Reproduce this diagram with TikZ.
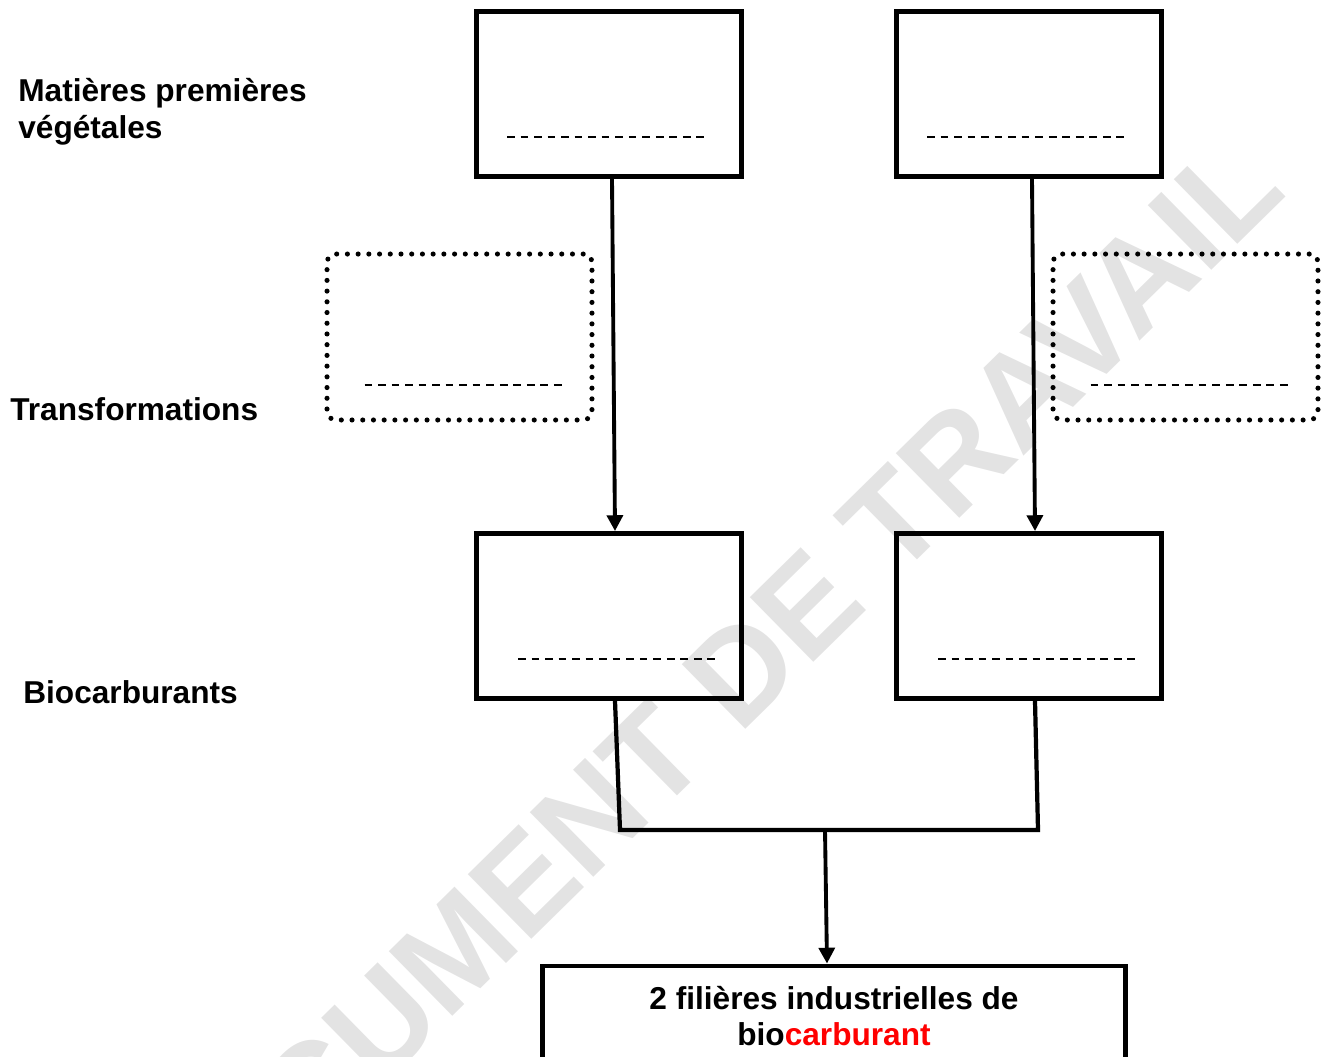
\documentclass[tikz,border=0pt]{standalone}
\usepackage{fontspec}
\setmainfont{Liberation Sans}
\usetikzlibrary{arrows.meta,calc}

\begin{document}
\begin{tikzpicture}[x=0.02cm,y=-0.02cm,
	box/.style={draw,line width=2.8pt,minimum width=5.3cm,minimum height=3.3cm,inner sep=0},
	dotbox/.style={draw,line width=2.9pt,line cap=round,dash pattern=on 0pt off 6.1pt,rounded corners=5pt,minimum width=5.3cm,minimum height=3.32cm,inner sep=0},
	blank/.style={line width=1.2pt,dash pattern=on 4.4pt off 3.3pt},
	link/.style={line width=2.4pt},
	arr/.style={line width=2.2pt,-{Triangle[length=9pt,width=9pt]}},
	lbl/.style={font=\bfseries\fontsize{18}{20.5}\selectfont,inner sep=0,anchor=base west,align=left}]
	\useasboundingbox (0,0) rectangle (1321,1056);
	% filigrane
	\node[text=black!11,font=\bfseries\fontsize{75}{80}\selectfont,rotate=44.5,inner sep=0] (Watermark) at (698,712) {DOCUMENT DE TRAVAIL};
	% legendes
	\node[lbl] (LabelRaw) at (18,138) {Matières premières\\végétales};
	\node[lbl] (LabelTrans) at (10,420) {Transformations};
	\node[lbl] (LabelBio) at (23,703) {Biocarburants};
	% cadres
	\node[box] (RawLeft) at (609,94) {};
	\node[box] (RawRight) at (1029,94) {};
	\node[dotbox] (TransLeft) at (459.5,337) {};
	\node[dotbox] (TransRight) at (1185.5,337) {};
	\node[box] (BioLeft) at (609,616) {};
	\node[box] (BioRight) at (1029,616) {};
	\node[box,minimum width=11.68cm,minimum height=2cm,align=center,font=\bfseries\fontsize{18}{20.5}\selectfont] (Filieres) at (834,1016) {2 filières industrielles de\\bio\textcolor{red}{carburant}};
	\foreach \n/\dx/\dy in {RawLeft/-102/43,RawRight/-102/43,TransLeft/-95/48,TransRight/-95/48,BioLeft/-91/43,BioRight/-91/43}
		\draw[blank] ($(\n.center)+(\dx,\dy)$) -- ++(200,0);
	% fleches
	\coordinate (JoinLeft) at (620,830);
	\coordinate (JoinRight) at (1038,830);
	\coordinate (JoinMid) at (825,830);
	\draw[arr] ($(RawLeft.south)+(3,0)$) -- ($(BioLeft.north)+(6,0)$);
	\draw[arr] ($(RawRight.south)+(3,0)$) -- ($(BioRight.north)+(6,0)$);
	\draw[link] ($(BioLeft.south)+(6,0)$) -- (JoinLeft) -- (JoinRight) -- ($(BioRight.south)+(6,0)$);
	\draw[arr] (JoinMid) -- ($(Filieres.north)+(-7,0)$);
\end{tikzpicture}
\end{document}
